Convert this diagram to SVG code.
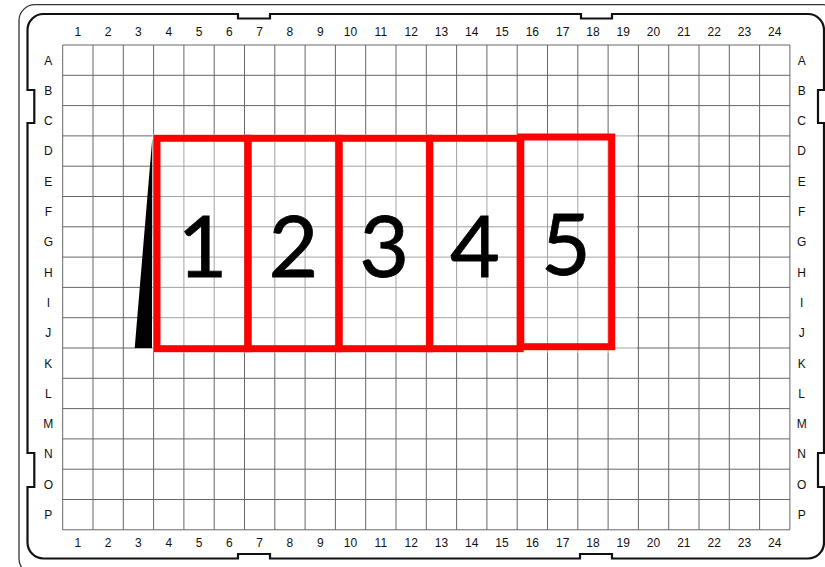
<svg xmlns="http://www.w3.org/2000/svg" width="825" height="567" viewBox="0 0 825 567">
<style>
.lbl{font-family:"Liberation Sans",Arial,sans-serif;font-size:12px;fill:#111;text-anchor:middle}
.grid{fill:none;stroke:#666;stroke-width:1}
.well{fill:none;stroke:#ff0000;stroke-width:7}
.num{font-family:Lato,"Noto Sans",sans-serif;font-size:86px;fill:#000;stroke:#000;stroke-width:0.8;text-anchor:middle}
</style>
<rect width="825" height="567" fill="#fff"/>
<g id="frame">
<rect x="19" y="4.7" width="820" height="570" rx="16" fill="none" stroke="#333" stroke-width="1.3"/>
<path d="M43.5,14 H238 V18.5 H270 V14 H581 V18.5 H612 V14 H808 A16,16 0 0 1 824,30 V90 H818 V123 H824 V453 H818 V487 H824 V542.5 A16,16 0 0 1 808,558.5 H612 V554 H580 V558.5 H270 V554 H238 V558.5 H43.5 A16,16 0 0 1 27.5,542.5 V487 H34.3 V453 H27.5 V123 H34.3 V90 H27.5 V30 A16,16 0 0 1 43.5,14 Z" fill="none" stroke="#111" stroke-width="2.2"/>
</g>
<g id="grid">
<path class="grid" d="M62.7,45V529.8M93,45V529.8M123.3,45V529.8M153.6,45V529.8M183.9,45V529.8M214.2,45V529.8M244.5,45V529.8M274.8,45V529.8M305.1,45V529.8M335.4,45V529.8M365.7,45V529.8M396,45V529.8M426.3,45V529.8M456.6,45V529.8M486.9,45V529.8M517.2,45V529.8M547.5,45V529.8M577.8,45V529.8M608.1,45V529.8M638.4,45V529.8M668.7,45V529.8M699,45V529.8M729.3,45V529.8M759.6,45V529.8M789.9,45V529.8
M62.7,45H789.9M62.7,75.3H789.9M62.7,105.6H789.9M62.7,135.9H789.9M62.7,166.2H789.9M62.7,196.5H789.9M62.7,226.8H789.9M62.7,257.1H789.9M62.7,287.4H789.9M62.7,317.7H789.9M62.7,348H789.9M62.7,378.3H789.9M62.7,408.6H789.9M62.7,438.9H789.9M62.7,469.2H789.9M62.7,499.5H789.9M62.7,529.8H789.9"/>
<rect x="152" y="134" width="485" height="219" fill="#fff" opacity="0.4"/>
</g>
<g id="col-labels-top">
<text class="lbl" x="77.85" y="35.7">1</text><text class="lbl" x="108.15" y="35.7">2</text><text class="lbl" x="138.45" y="35.7">3</text><text class="lbl" x="168.75" y="35.7">4</text><text class="lbl" x="199.05" y="35.7">5</text><text class="lbl" x="229.35" y="35.7">6</text><text class="lbl" x="259.65" y="35.7">7</text><text class="lbl" x="289.95" y="35.7">8</text><text class="lbl" x="320.25" y="35.7">9</text><text class="lbl" x="350.55" y="35.7">10</text><text class="lbl" x="380.85" y="35.7">11</text><text class="lbl" x="411.15" y="35.7">12</text><text class="lbl" x="441.45" y="35.7">13</text><text class="lbl" x="471.75" y="35.7">14</text><text class="lbl" x="502.05" y="35.7">15</text><text class="lbl" x="532.35" y="35.7">16</text><text class="lbl" x="562.65" y="35.7">17</text><text class="lbl" x="592.95" y="35.7">18</text><text class="lbl" x="623.25" y="35.7">19</text><text class="lbl" x="653.55" y="35.7">20</text><text class="lbl" x="683.85" y="35.7">21</text><text class="lbl" x="714.15" y="35.7">22</text><text class="lbl" x="744.45" y="35.7">23</text><text class="lbl" x="774.75" y="35.7">24</text>
</g>
<g id="col-labels-bottom">
<text class="lbl" x="77.85" y="547.3">1</text><text class="lbl" x="108.15" y="547.3">2</text><text class="lbl" x="138.45" y="547.3">3</text><text class="lbl" x="168.75" y="547.3">4</text><text class="lbl" x="199.05" y="547.3">5</text><text class="lbl" x="229.35" y="547.3">6</text><text class="lbl" x="259.65" y="547.3">7</text><text class="lbl" x="289.95" y="547.3">8</text><text class="lbl" x="320.25" y="547.3">9</text><text class="lbl" x="350.55" y="547.3">10</text><text class="lbl" x="380.85" y="547.3">11</text><text class="lbl" x="411.15" y="547.3">12</text><text class="lbl" x="441.45" y="547.3">13</text><text class="lbl" x="471.75" y="547.3">14</text><text class="lbl" x="502.05" y="547.3">15</text><text class="lbl" x="532.35" y="547.3">16</text><text class="lbl" x="562.65" y="547.3">17</text><text class="lbl" x="592.95" y="547.3">18</text><text class="lbl" x="623.25" y="547.3">19</text><text class="lbl" x="653.55" y="547.3">20</text><text class="lbl" x="683.85" y="547.3">21</text><text class="lbl" x="714.15" y="547.3">22</text><text class="lbl" x="744.45" y="547.3">23</text><text class="lbl" x="774.75" y="547.3">24</text>
</g>
<g id="row-labels-left">
<text class="lbl" x="48.3" y="64.5">A</text><text class="lbl" x="48.3" y="94.8">B</text><text class="lbl" x="48.3" y="125.1">C</text><text class="lbl" x="48.3" y="155.4">D</text><text class="lbl" x="48.3" y="185.7">E</text><text class="lbl" x="48.3" y="216">F</text><text class="lbl" x="48.3" y="246.3">G</text><text class="lbl" x="48.3" y="276.6">H</text><text class="lbl" x="48.3" y="306.9">I</text><text class="lbl" x="48.3" y="337.2">J</text><text class="lbl" x="48.3" y="367.5">K</text><text class="lbl" x="48.3" y="397.8">L</text><text class="lbl" x="48.3" y="428.1">M</text><text class="lbl" x="48.3" y="458.4">N</text><text class="lbl" x="48.3" y="488.7">O</text><text class="lbl" x="48.3" y="519">P</text>
</g>
<g id="row-labels-right">
<text class="lbl" x="801.7" y="64.5">A</text><text class="lbl" x="801.7" y="94.8">B</text><text class="lbl" x="801.7" y="125.1">C</text><text class="lbl" x="801.7" y="155.4">D</text><text class="lbl" x="801.7" y="185.7">E</text><text class="lbl" x="801.7" y="216">F</text><text class="lbl" x="801.7" y="246.3">G</text><text class="lbl" x="801.7" y="276.6">H</text><text class="lbl" x="801.7" y="306.9">I</text><text class="lbl" x="801.7" y="337.2">J</text><text class="lbl" x="801.7" y="367.5">K</text><text class="lbl" x="801.7" y="397.8">L</text><text class="lbl" x="801.7" y="428.1">M</text><text class="lbl" x="801.7" y="458.4">N</text><text class="lbl" x="801.7" y="488.7">O</text><text class="lbl" x="801.7" y="519">P</text>
</g>
<g id="wedge">
<polygon points="152.3,138.3 134.7,348 152,348" fill="#000"/>
</g>
<g id="region-1"><rect class="well" x="157" y="138.3" width="91" height="210.4"/><text class="num" x="202.5" y="276.7">1</text></g>
<g id="region-2"><rect class="well" x="248" y="138.3" width="91" height="210.4"/><text class="num" x="293.5" y="276.7">2</text></g>
<g id="region-3"><rect class="well" x="339" y="138.3" width="90.7" height="210.4"/><text class="num" x="384.3" y="276.7">3</text></g>
<g id="region-4"><rect class="well" x="429.7" y="138.3" width="90.5" height="210.4"/><text class="num" x="475" y="276.7">4</text></g>
<g id="region-5"><rect class="well" x="520.8" y="137" width="90.9" height="209.7"/><text class="num" x="566" y="275">5</text></g>
<g id="connectors"/>
</svg>
